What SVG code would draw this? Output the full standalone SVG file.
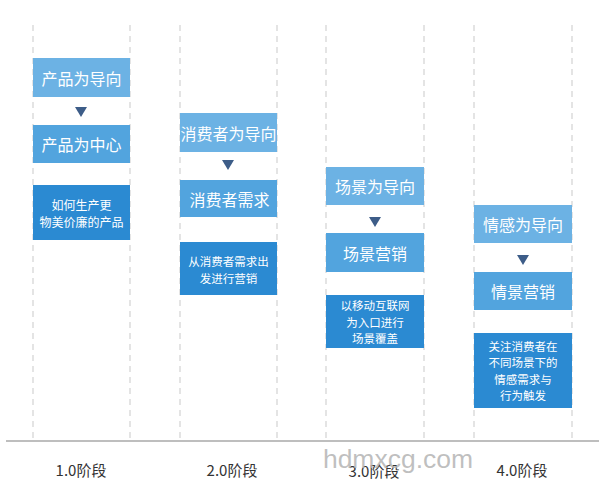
<svg xmlns="http://www.w3.org/2000/svg" width="599" height="486" viewBox="0 0 599 486">
<style>
.dash{stroke:#c9c9c9;stroke-width:1;stroke-dasharray:6 5;fill:none}
.b1{fill:#6cb2e4}
.b2{fill:#52a4de}
.b3{fill:#2b8ad2}
.t{fill:#ffffff;font-family:"Noto Sans CJK SC","Noto Sans",sans-serif;text-anchor:middle;dominant-baseline:central}
.big{font-size:16px}
.sm{font-size:11.5px}
.tri{fill:#3d5d88}
.lbl{fill:#333333;font-family:"Noto Sans CJK SC","Liberation Sans",sans-serif;font-size:15px;text-anchor:middle}
</style>
<rect width="599" height="486" fill="#ffffff"/>
<g id="guides">
<line class="dash" x1="33" y1="25" x2="33" y2="440"/>
<line class="dash" x1="130" y1="25" x2="130" y2="440"/>
<line class="dash" x1="180" y1="25" x2="180" y2="440"/>
<line class="dash" x1="277" y1="25" x2="277" y2="440"/>
<line class="dash" x1="326" y1="25" x2="326" y2="440"/>
<line class="dash" x1="424" y1="25" x2="424" y2="440"/>
<line class="dash" x1="474" y1="25" x2="474" y2="440"/>
<line class="dash" x1="572" y1="25" x2="572" y2="440"/>
<line x1="6" y1="441" x2="599" y2="441" stroke="#a8a8a8" stroke-width="1.5"/>
</g>
<g id="connectors">
<polygon class="tri" points="75,107 87,107 81,117"/>
<polygon class="tri" points="222,160 234,160 228,170"/>
<polygon class="tri" points="369,217 381,217 375,227"/>
<polygon class="tri" points="517,255 529,255 523,265"/>
</g>
<g id="n1a"><rect class="b1" x="33" y="58" width="97" height="39"/><text class="t big" x="81.5" y="77.5">产品为导向</text></g>
<g id="n1b"><rect class="b2" x="33" y="125" width="97" height="38"/><text class="t big" x="81.5" y="144">产品为中心</text></g>
<g id="n1c"><rect class="b3" x="33" y="185" width="97" height="55"/><text class="t" font-size="12" x="81.5" y="204">如何生产更</text><text class="t" font-size="12" x="81.5" y="221.5">物美价廉的产品</text></g>
<g id="n2a"><rect class="b1" x="180" y="113" width="97" height="39"/><text class="t big" x="228.5" y="132.5">消费者为导向</text></g>
<g id="n2b"><rect class="b2" x="180" y="180" width="97" height="37"/><text class="t big" x="229.5" y="198.5">消费者需求</text></g>
<g id="n2c"><rect class="b3" x="180" y="242" width="97" height="53"/><text class="t sm" x="228.5" y="260.5">从消费者需求出</text><text class="t sm" x="228.5" y="277.5">发进行营销</text></g>
<g id="n3a"><rect class="b1" x="326" y="167" width="98" height="38"/><text class="t big" x="375" y="186">场景为导向</text></g>
<g id="n3b"><rect class="b2" x="326" y="233" width="98" height="39"/><text class="t big" x="375" y="252.5">场景营销</text></g>
<g id="n3c"><rect class="b3" x="326" y="295" width="98" height="53"/><text class="t sm" x="375" y="305">以移动互联网</text><text class="t sm" x="375" y="321.5">为入口进行</text><text class="t sm" x="375" y="338">场景覆盖</text></g>
<g id="n4a"><rect class="b1" x="474" y="205" width="98" height="38"/><text class="t big" x="523" y="224">情感为导向</text></g>
<g id="n4b"><rect class="b2" x="474" y="272" width="98" height="38"/><text class="t big" x="523" y="291">情景营销</text></g>
<g id="n4c"><rect class="b3" x="474" y="333" width="98" height="75"/><text class="t sm" x="523" y="345.5">关注消费者在</text><text class="t sm" x="523" y="362">不同场景下的</text><text class="t sm" x="523" y="378.5">情感需求与</text><text class="t sm" x="523" y="395">行为触发</text></g>
<g id="labels">
<text class="lbl" x="81" y="476">1.0阶段</text>
<text class="lbl" x="232" y="476">2.0阶段</text>
<text class="lbl" x="374" y="477">3.0阶段</text>
<text class="lbl" x="522" y="476">4.0阶段</text>
</g>
<text x="398" y="468" font-family="Liberation Sans,Arial,sans-serif" font-size="26.5" fill="#b4b4b4" fill-opacity="0.85" text-anchor="middle">hdmxcg.com</text>
</svg>
